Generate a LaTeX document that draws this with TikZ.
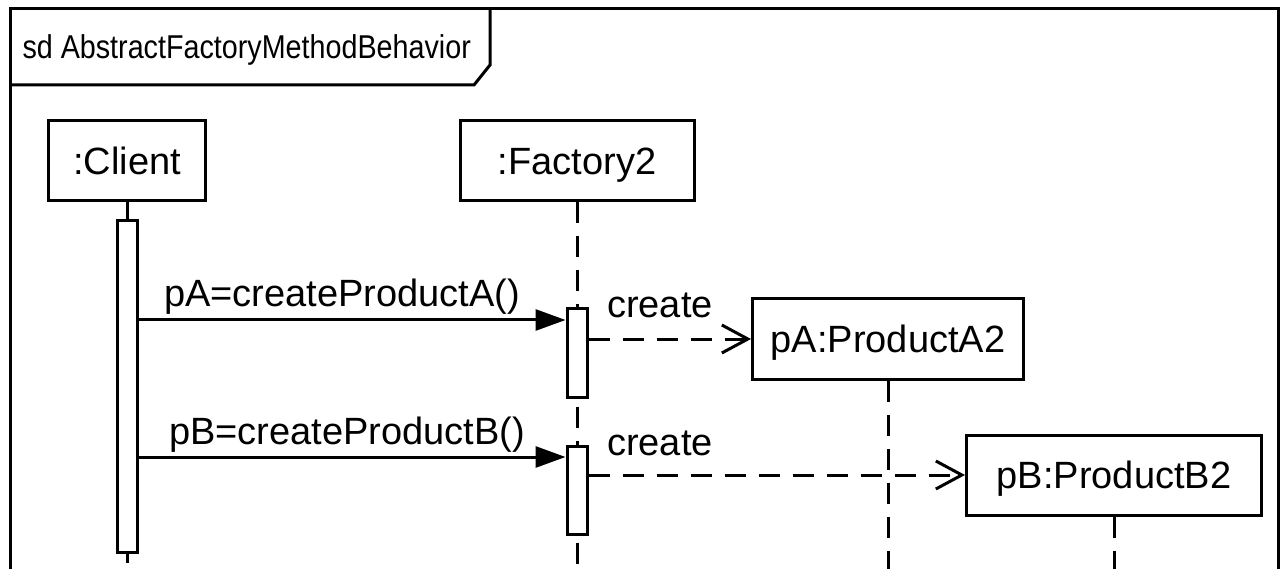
\documentclass[tikz,border=0pt]{standalone}
\usepackage{fontspec}
\setmainfont{Liberation Sans}
\usetikzlibrary{arrows.meta}
\begin{document}
\begin{tikzpicture}[x=1pt,y=-1pt,
  line width=3pt,
  every node/.style={font=\fontsize{38}{46}\selectfont, inner sep=0pt},
  lifebox/.style={draw, fill=white, minimum height=80pt, text height=27pt, text depth=0pt},
  actbar/.style={draw, fill=white, minimum width=20pt},
  lifeline/.style={dash pattern=on 21pt off 13pt},
  call/.style={-{Triangle[length=30pt,width=21pt]}},
  create/.style={dash pattern=on 21pt off 13pt, -{Straight Barb[length=26pt,width=28pt]}},
  lbl/.style={anchor=base}
]
\useasboundingbox (0,0) rectangle (1285,569);

% diagram frame and its name tab
\draw (10,569) -- (10,9) -- (1278,9) -- (1278,569);
\node[anchor=base west, font=\fontsize{33}{40}\selectfont] (title) at (21,59)
  {\scalebox{0.87}[1]{sd AbstractFactoryMethodBehavior}};
\draw (10,85) -- (474,85) -- (490,65) -- (490,9);

% lifeline heads
\node[lifebox, minimum width=157pt] (cl) at (127,161) {:Client};
\node[lifebox, minimum width=234pt] (fa) at (577,161) {:Factory2};

% lifelines of the client and the factory
\coordinate (clEnd) at (127,563);
\coordinate (faEnd) at (577,569);
\draw[lifeline] (fa.south) -- (faEnd);

% activations
\node[actbar, minimum height=331pt] (ac) at (127,386.5) {};
\draw (cl.south) -- (ac.north);
\draw (ac.south) -- (clEnd);
\node[actbar, minimum height=88pt] (a1) at (577,353) {};
\node[actbar, minimum height=88pt] (a2) at (577,490) {};

% created products
\node[lifebox, minimum width=271pt] (pa) at (888,339) {pA:ProductA2};
\node[lifebox, minimum width=295pt] (pb) at (1114,475) {pB:ProductB2};
\coordinate (paEnd) at (888,569);
\coordinate (pbEnd) at (1114,569);
\draw[lifeline] (pa.south) -- (paEnd);
\draw[lifeline] (pb.south) -- (pbEnd);

% synchronous calls
\coordinate (m1) at (0,320);
\coordinate (m2) at (0,457);
\draw[call] (ac.east |- m1) -- (a1.west |- m1);
\draw[call] (ac.east |- m2) -- (a2.west |- m2);
\node[lbl] (l1) at (342,307) {pA=createProductA()};
\node[lbl] (l2) at (347,444) {pB=createProductB()};

% creation messages
\draw[create] (a1.east |- pa.west) -- (pa.west);
\draw[create] (a2.east |- pb.west) -- (pb.west);
\node[lbl] (c1) at (660,318) {create};
\node[lbl] (c2) at (660,455) {create};
\end{tikzpicture}
\end{document}
